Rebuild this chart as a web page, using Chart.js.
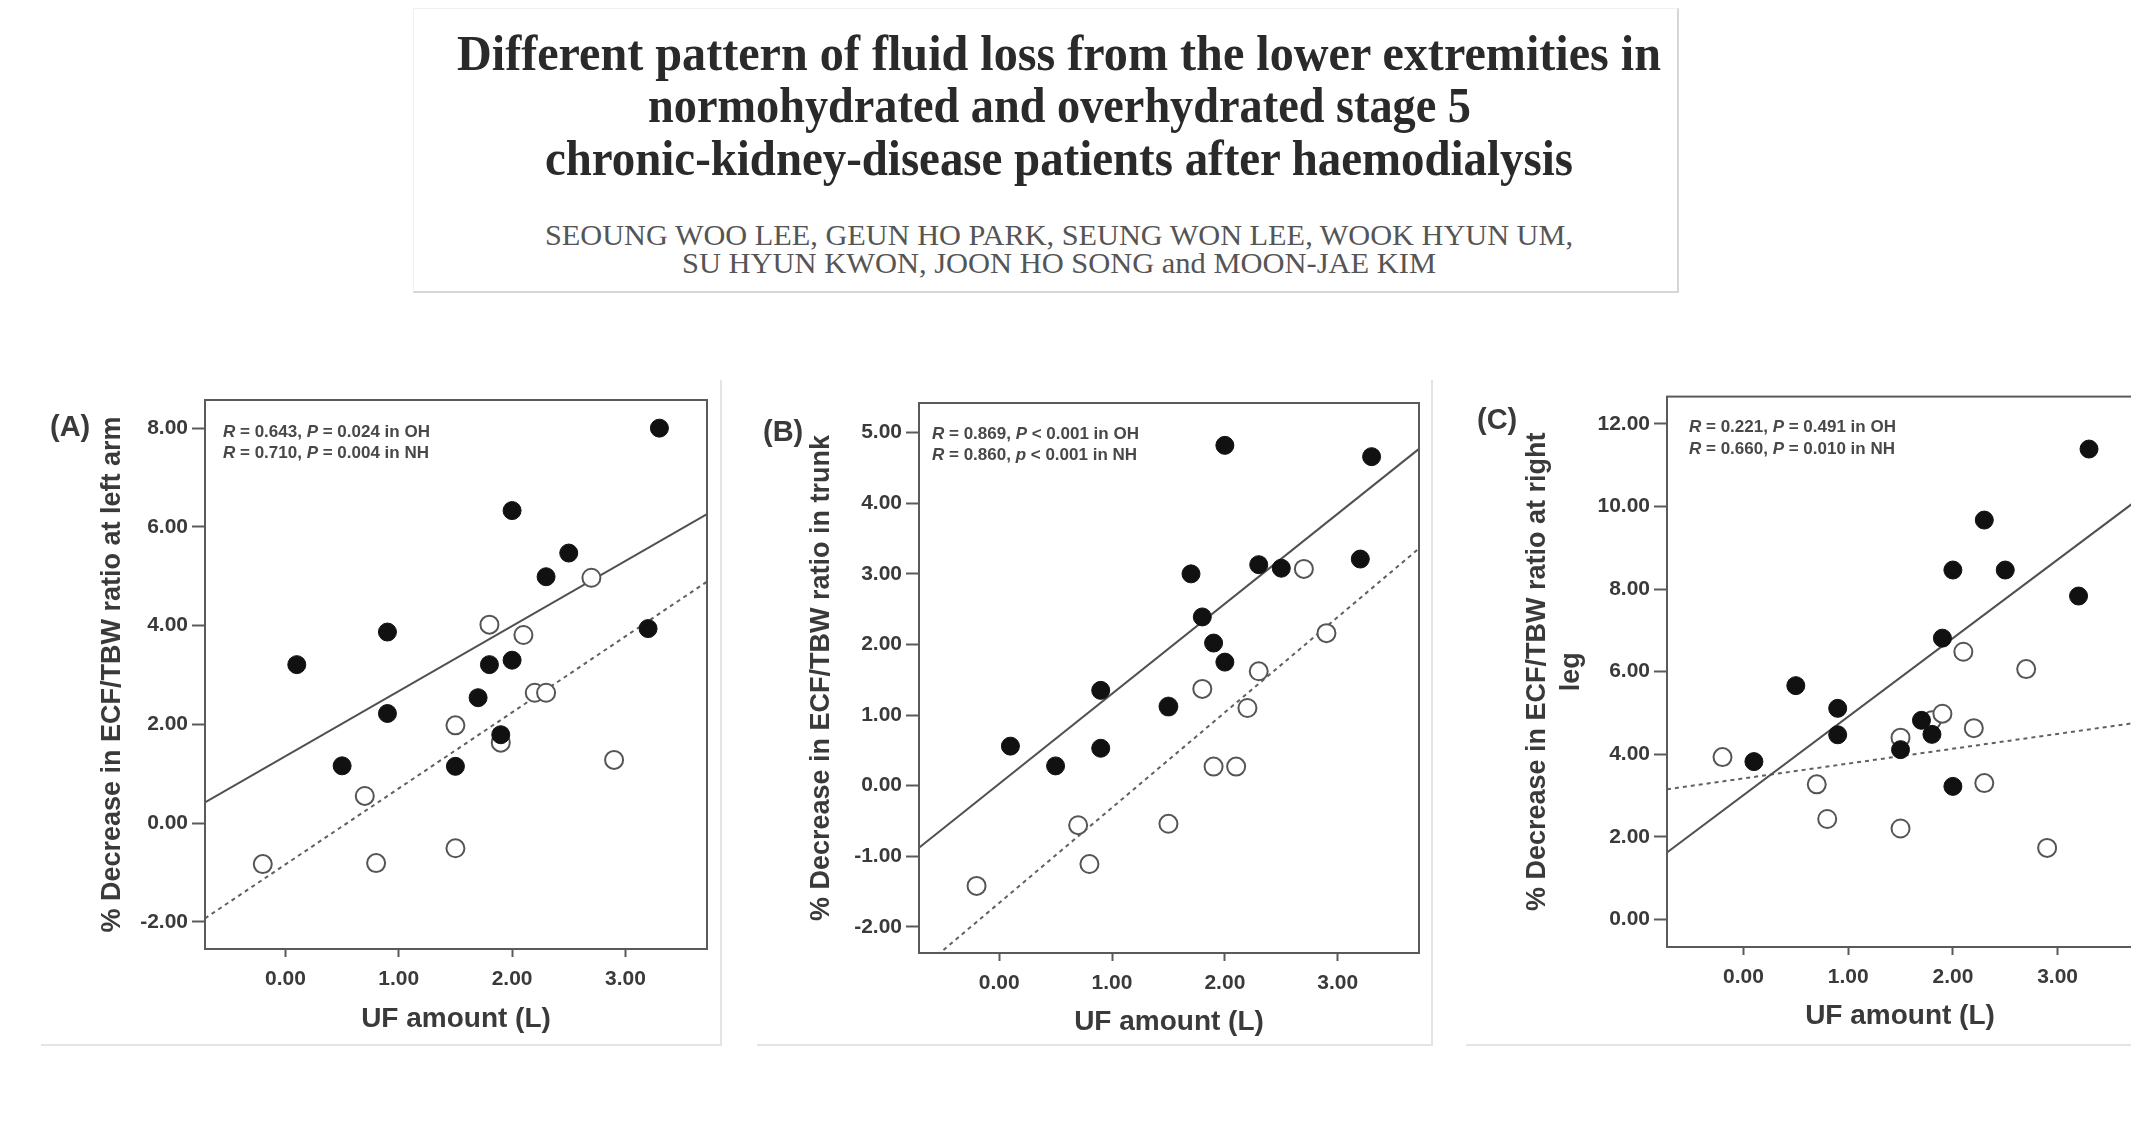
<!DOCTYPE html>
<html>
<head>
<meta charset="utf-8">
<script src="https://cdn.jsdelivr.net/npm/chart.js@4.4.0/dist/chart.umd.min.js"></script>
<style>
	html, body { margin: 0; padding: 0; background: #fff; }
	body { width: 2131px; height: 1125px; overflow: hidden; position: relative; font-family: "Liberation Sans", Arial, sans-serif; }
	.head { position: absolute; left: 413px; top: 8px; width: 1263px; height: 282px; border: 1px solid #f0f0f0; border-right: 2px solid #d6d6d6; border-bottom: 2px solid #d6d6d6; }
	.line { position: absolute; white-space: nowrap; font-family: "Liberation Serif", "Times New Roman", serif; transform-origin: 0 0; }
	.title { font-size: 50px; line-height: 50px; color: #2a2a2a; font-weight: bold; }
	.authors { font-size: 30px; line-height: 30px; color: #555; }
	.frame { position: absolute; border-right: 2px solid #e4e4e4; border-bottom: 2px solid #e4e4e4; }
	canvas { position: absolute; }
</style>
</head>
<body>
<div class="head"></div>
<div class="line title" data-cx="1059" data-w="1204" style="top:28px">Different pattern of fluid loss from the lower extremities in</div>
<div class="line title" data-cx="1059" data-w="823" style="top:80px">normohydrated and overhydrated stage 5</div>
<div class="line title" data-cx="1059" data-w="1028" style="top:133px">chronic-kidney-disease patients after haemodialysis</div>
<div class="line authors" data-cx="1059" data-w="1028" style="top:220px">SEOUNG WOO LEE, GEUN HO PARK, SEUNG WON LEE, WOOK HYUN UM,</div>
<div class="line authors" data-cx="1059" data-w="754" style="top:248px">SU HYUN KWON, JOON HO SONG and MOON-JAE KIM</div>

<div class="frame" style="left:41px; top:380px; width:679px; height:664px;"></div>
<div class="frame" style="left:757px; top:380px; width:674px; height:664px;"></div>
<div class="frame" style="left:1466px; top:380px; width:700px; height:664px; border-right:none;"></div>

<canvas id="chartA" width="690" height="660" style="left:30px; top:380px;"></canvas>
<canvas id="chartB" width="690" height="660" style="left:740px; top:380px;"></canvas>
<canvas id="chartC" width="690" height="660" style="left:1460px; top:380px;"></canvas>

<script>
// ---- data ----
const xTicks = [0, 1, 2, 3];
const xTitle = "UF amount (L)";

// (A) left arm
const aNhX = [0.1, 0.5, 0.9, 0.9, 1.5, 1.7, 1.8, 1.9, 2.0, 2.0, 2.3, 2.5, 3.2, 3.3];
const aNhY = [3.21, 1.16, 3.87, 2.22, 1.15, 2.54, 3.21, 1.79, 6.33, 3.30, 4.99, 5.47, 3.94, 8.00];
const aOhX = [-0.2, 0.7, 0.8, 1.5, 1.5, 1.8, 1.9, 2.1, 2.2, 2.3, 2.7, 2.9];
const aOhY = [-0.83, 0.55, -0.81, 1.98, -0.51, 4.02, 1.63, 3.81, 2.64, 2.64, 4.97, 1.28];
const aFitX = [-0.71, 3.72];
const aNhFit = [0.42, 6.26];
const aOhFit = [-1.93, 4.89];
const aYTicks = [-2, 0, 2, 4, 6, 8];
const aYRange = [-2.55, 8.57];
const aYTitle = "% Decrease in ECF/TBW ratio at left arm";
const aNote = ["R = 0.643, P = 0.024 in OH", "R = 0.710, P = 0.004 in NH"];

// (B) trunk
const bNhX = [0.1, 0.5, 0.9, 0.9, 1.5, 1.7, 1.8, 1.9, 2.0, 2.0, 2.3, 2.5, 3.2, 3.3];
const bNhY = [0.56, 0.28, 1.35, 0.53, 1.12, 3.00, 2.39, 2.02, 4.82, 1.75, 3.13, 3.08, 3.21, 4.66];
const bOhX = [-0.2, 0.7, 0.8, 1.5, 1.5, 1.8, 1.9, 2.1, 2.2, 2.3, 2.7, 2.9];
const bOhY = [-1.42, -0.56, -1.11, -0.54, 1.12, 1.37, 0.27, 0.27, 1.10, 1.62, 3.07, 2.16];
const bFitX = [-0.71, 3.72];
const bNhFit = [-0.88, 4.77];
const bOhFit = [-2.62, 3.36];
const bYTicks = [-2, -1, 0, 1, 2, 3, 4, 5];
const bYRange = [-2.37, 5.42];
const bYTitle = "% Decrease in ECF/TBW ratio in trunk";
const bNote = ["R = 0.869, P < 0.001 in OH", "R = 0.860, p < 0.001 in NH"];

// (C) right leg
const cNhX = [0.1, 0.5, 0.9, 0.9, 1.5, 1.7, 1.8, 1.9, 2.0, 2.0, 2.3, 2.5, 3.2, 3.3];
const cNhY = [3.82, 5.66, 5.11, 4.47, 4.11, 4.82, 4.48, 6.81, 8.46, 3.22, 9.67, 8.46, 7.83, 11.39];
const cOhX = [-0.2, 0.7, 0.8, 1.5, 1.5, 1.8, 1.9, 2.1, 2.2, 2.3, 2.7, 2.9];
const cOhY = [3.93, 3.27, 2.43, 4.40, 2.20, 4.82, 4.98, 6.48, 4.63, 3.30, 6.06, 1.73];
const cFitX = [-0.73, 3.72];
const cNhFit = [1.62, 10.08];
const cOhFit = [3.15, 4.75];
const cYTicks = [0, 2, 4, 6, 8, 10, 12];
const cYRange = [-0.67, 12.66];
const cYTitle = ["% Decrease in ECF/TBW ratio at right", "leg"];
const cNote = ["R = 0.221, P = 0.491 in OH", "R = 0.660, P = 0.010 in NH"];

// fit header lines to their measured widths
document.querySelectorAll(".line").forEach((el) => {
	const w0 = el.getBoundingClientRect().width;
	const w = +el.dataset.w;
	el.style.left = (+el.dataset.cx - w / 2) + "px";
	el.style.transform = "scaleX(" + (w / w0) + ")";
});

const pts = (xs, ys) => xs.map((x, i) => ({ x: x, y: ys[i] }));
const ink = "#3a3a3a";

// box, panel tag and R/P note
const decor = {
	id: "decor",
	afterDatasetsDraw(chart, args, o) {
		const ctx = chart.ctx;
		const a = chart.chartArea;
		ctx.save();
		ctx.strokeStyle = "#5a5a5a";
		ctx.lineWidth = 2;
		ctx.strokeRect(a.left, a.top, a.right - a.left, a.bottom - a.top);

		ctx.fillStyle = ink;
		ctx.textBaseline = "middle";
		ctx.font = "bold 29px 'Liberation Sans'";
		ctx.fillText(o.tag, o.tagX, o.tagY);

		ctx.fillStyle = "#484848";
		o.note.forEach((txt, i) => {
			let x = a.left + o.noteX;
			const y = a.top + o.noteY + i * o.noteGap;
			txt.split(/\b([RPp])(?= [=<])/).forEach((part, k) => {
				ctx.font = (k % 2 ? "italic bold " : "bold ") + "17px 'Liberation Sans'";
				ctx.fillText(part, x, y);
				x += ctx.measureText(part).width;
			});
		});
		ctx.restore();
	},
};

function panel(id, p) {
	return new Chart(document.getElementById(id), {
		type: "scatter",
		data: {
			datasets: [
				{
					data: pts(p.fitX, p.nhFit),
					showLine: true,
					borderColor: "#505050",
					borderWidth: 2,
					pointRadius: 0,
					order: 3,
				},
				{
					data: pts(p.fitX, p.ohFit),
					showLine: true,
					borderColor: "#606060",
					borderWidth: 2,
					borderDash: [4, 4],
					pointRadius: 0,
					order: 3,
				},
				{
					label: "OH",
					data: pts(p.ohX, p.ohY),
					pointRadius: 9,
					pointBackgroundColor: "#ffffff",
					pointBorderColor: "#555555",
					pointBorderWidth: 2,
					order: 2,
				},
				{
					label: "NH",
					data: pts(p.nhX, p.nhY),
					pointRadius: 9,
					pointBackgroundColor: "#111111",
					pointBorderColor: "#111111",
					pointBorderWidth: 1,
					order: 1,
				},
			],
		},
		options: {
			responsive: false,
			animation: false,
			events: [],
			layout: { padding: p.pad },
			plugins: {
				legend: { display: false },
				tooltip: { enabled: false },
				decor: p.decor,
			},
			scales: {
				x: {
					min: p.fitX[0],
					max: p.fitX[1],
					afterBuildTicks: (s) => { s.ticks = xTicks.map((v) => ({ value: v })); },
					afterFit: (s) => { s.height = p.xH; },
					border: { display: false },
					grid: { drawOnChartArea: false, drawTicks: true, tickLength: 8, tickWidth: 2, tickColor: "#5a5a5a" },
					ticks: { padding: 10, color: ink, font: { size: 21, weight: "bold", family: "'Liberation Sans'" }, callback: (v) => v.toFixed(2) },
					title: { display: true, text: xTitle, color: ink, padding: 0, font: { size: 28, weight: "bold", family: "'Liberation Sans'", lineHeight: 1.2 } },
				},
				y: {
					min: p.yRange[0],
					max: p.yRange[1],
					afterBuildTicks: (s) => { s.ticks = p.yTicks.map((v) => ({ value: v })); },
					afterFit: (s) => { s.width = p.yW; },
					border: { display: false },
					grid: { drawOnChartArea: false, drawTicks: true, tickLength: 13, tickWidth: 2, tickColor: "#5a5a5a" },
					ticks: { padding: 4, color: ink, font: { size: 21, weight: "bold", family: "'Liberation Sans'" }, callback: (v) => v.toFixed(2) },
					title: { display: true, text: p.yTitle, color: ink, padding: 0, font: { size: 27, weight: "bold", family: "'Liberation Sans'", lineHeight: 1.26 } },
				},
			},
		},
		plugins: [decor],
	});
}

panel("chartA", {
	nhX: aNhX, nhY: aNhY, ohX: aOhX, ohY: aOhY,
	fitX: aFitX, nhFit: aNhFit, ohFit: aOhFit,
	yTicks: aYTicks, yRange: aYRange, yTitle: aYTitle,
	pad: { left: 66, top: 20, right: 13, bottom: 4 }, yW: 109, xH: 87,
	decor: { tag: "(A)", tagX: 20, tagY: 48, note: aNote, noteX: 18, noteY: 32, noteGap: 21 },
});

panel("chartB", {
	nhX: bNhX, nhY: bNhY, ohX: bOhX, ohY: bOhY,
	fitX: bFitX, nhFit: bNhFit, ohFit: bOhFit,
	yTicks: bYTicks, yRange: bYRange, yTitle: bYTitle,
	pad: { left: 65, top: 23, right: 10, bottom: 1 }, yW: 114, xH: 86,
	decor: { tag: "(B)", tagX: 23, tagY: 53, note: bNote, noteX: 13, noteY: 31, noteGap: 21 },
});

panel("chartC", {
	nhX: cNhX, nhY: cNhY, ohX: cOhX, ohY: cOhY,
	fitX: cFitX, nhFit: cNhFit, ohFit: cOhFit,
	yTicks: cYTicks, yRange: cYRange, yTitle: cYTitle,
	pad: { left: 61, top: 14, right: 17, bottom: 7 }, yW: 146, xH: 86,
	decor: { tag: "(C)", tagX: 17, tagY: 41, note: cNote, noteX: 22, noteY: 31, noteGap: 22 },
});
</script>
</body>
</html>
